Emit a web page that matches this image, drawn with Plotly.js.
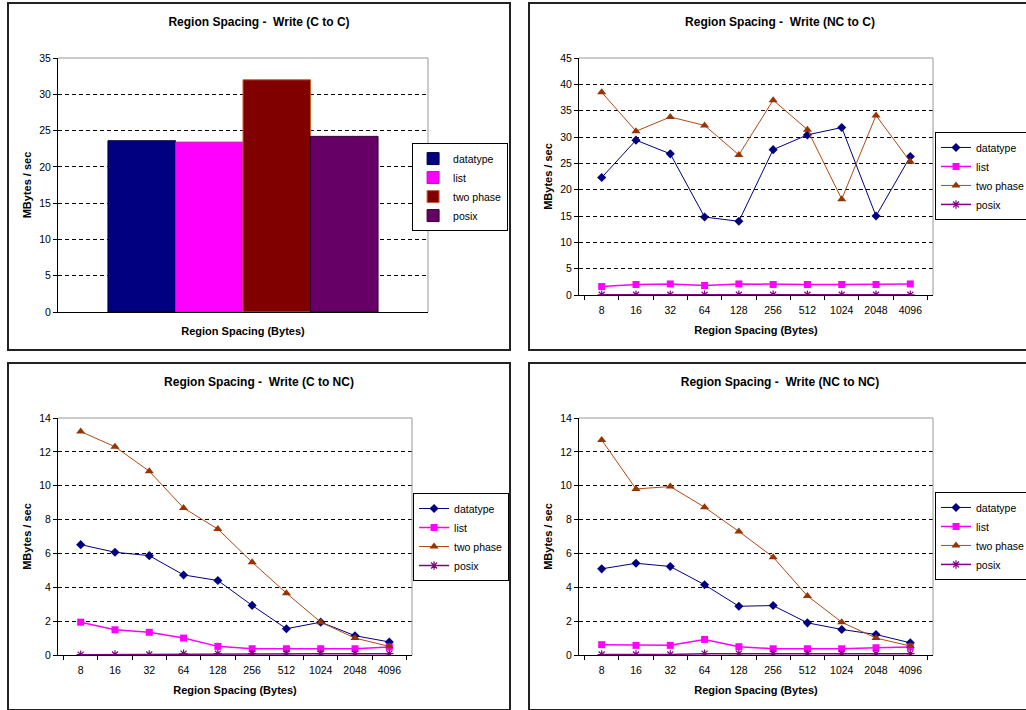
<!DOCTYPE html>
<html><head><meta charset="utf-8">
<script src="https://cdn.plot.ly/plotly-3.0.1.min.js"></script>
<style>
body{margin:0;width:1026px;height:710px;overflow:hidden;background:#fff;position:relative}
.frame{position:absolute;border:2px solid #222;width:500px;height:345px;background:#fff}
.frame>div{width:500px;height:345px}
</style></head><body>
<div class="frame" style="left:7px;top:2px"><div id="p1"></div></div>
<div class="frame" style="left:528px;top:2px"><div id="p2"></div></div>
<div class="frame" style="left:7px;top:362px"><div id="p3"></div></div>
<div class="frame" style="left:528px;top:362px"><div id="p4"></div></div>
<script>
// ---- data ----
const spacing = ['8','16','32','64','128','256','512','1024','2048','4096'];
const seriesNames = ['datatype','list','two phase','posix'];

// Write (C to C) - bar values
const ccValues = [23.6, 23.4, 32.0, 24.2];

// Write (NC to C)
const ncDatatype = [22.3, 29.4, 26.8, 14.8, 14.0, 27.6, 30.4, 31.8, 15.0, 26.3];
const ncList     = [1.6, 2.0, 2.1, 1.8, 2.1, 2.0, 2.0, 2.0, 2.0, 2.1];
const ncTwoPhase = [38.5, 31.1, 33.8, 32.2, 26.6, 37.0, 31.4, 18.2, 34.1, 25.3];
const ncPosix    = [0.05, 0.05, 0.05, 0.05, 0.05, 0.05, 0.05, 0.05, 0.05, 0.05];

// Write (C to NC)
const cnDatatype = [6.52, 6.07, 5.87, 4.73, 4.40, 2.93, 1.55, 1.94, 1.14, 0.77];
const cnList     = [1.94, 1.49, 1.34, 1.00, 0.51, 0.37, 0.37, 0.37, 0.37, 0.47];
const cnTwoPhase = [13.2, 12.3, 10.86, 8.68, 7.44, 5.48, 3.65, 1.94, 1.00, 0.51];
const cnPosix    = [0.02, 0.03, 0.03, 0.08, 0.08, 0.08, 0.08, 0.08, 0.08, 0.08];

// Write (NC to NC)
const nnDatatype = [5.09, 5.42, 5.23, 4.15, 2.88, 2.92, 1.90, 1.51, 1.21, 0.72];
const nnList     = [0.61, 0.57, 0.57, 0.92, 0.49, 0.37, 0.37, 0.37, 0.43, 0.47];
const nnTwoPhase = [12.7, 9.81, 9.95, 8.73, 7.30, 5.78, 3.49, 1.94, 1.00, 0.53];
const nnPosix    = [0.03, 0.03, 0.03, 0.08, 0.08, 0.08, 0.08, 0.08, 0.08, 0.08];

// ---- styles ----
const FONT = 'Liberation Sans, Arial, sans-serif';
const barColors = ['#000080', '#FF00FF', '#800000', '#660066'];
const barLines  = ['#000040', '#CC00CC', '#C8622A', '#330033'];
const lineColors = ['#000080', '#FF00FF', '#B04A14', '#800080'];
const markerColors = ['#000080', '#FF00FF', '#993300', '#800080'];
const symbols = ['diamond', 'square', 'triangle-up', 'asterisk-open'];
const msizes = [7, 7, 8, 7];
const lwidths = [1, 1.5, 1, 1.5];

function titleObj(t) {
  return {text: '<b>' + t + '</b>', x: 0.5, xref: 'container', xanchor: 'center',
          y: 1 - 18/345, yref: 'container', yanchor: 'middle',
          font: {family: FONT, size: 12, color: '#000'}};
}
function legendObj(x, y) {
  return {x: x, y: y, xref: 'paper', yref: 'paper', xanchor: 'left', yanchor: 'top',
          bgcolor: '#fff', bordercolor: '#000', borderwidth: 1,
          font: {family: FONT, size: 10.5, color: '#000'},
          itemwidth: 30, tracegroupgap: 0};
}
function yAxis(max, dtick) {
  return {range: [0, max], dtick: dtick, tick0: 0, showline: true, linecolor: '#000', linewidth: 1,
          ticks: 'outside', ticklen: 4, tickcolor: '#000', showgrid: true, gridcolor: '#000',
          griddash: '4px,3px', gridwidth: 1, zeroline: false, fixedrange: true, automargin: false,
          tickfont: {family: FONT, size: 10.5, color: '#000'},
          title: {text: '<b>MBytes / sec</b>', font: {family: FONT, size: 11, color: '#000'}, standoff: 5}};
}
const boxShapes = [
  {type: 'line', xref: 'paper', yref: 'paper', x0: 0, x1: 1, y0: 1, y1: 1, line: {color: '#999', width: 1}, layer: 'above'},
  {type: 'line', xref: 'paper', yref: 'paper', x0: 1, x1: 1, y0: 0, y1: 1, line: {color: '#999', width: 1}, layer: 'above'}
];

// ---- Panel 1: bar chart ----
const barTraces = seriesNames.map((n, i) => ({
  type: 'bar', name: n, x: ['Region'], y: [ccValues[i]],
  marker: {color: barColors[i], line: {color: barLines[i], width: 1}}
}));
Plotly.newPlot('p1', barTraces, {
  width: 500, height: 345, paper_bgcolor: '#fff', plot_bgcolor: '#fff',
  margin: {l: 49, r: 81, t: 54, b: 37, autoexpand: false},
  title: titleObj('Region Spacing - \u00a0Write (C to C)'),
  barmode: 'group', bargap: 0.27, bargroupgap: 0,
  showlegend: true, legend: legendObj(0.957, 0.665),
  xaxis: {type: 'category', showticklabels: false, ticks: '', showline: true, linecolor: '#000',
          linewidth: 1, showgrid: false, fixedrange: true, automargin: false,
          title: {text: '<b>Region Spacing (Bytes)</b>', font: {family: FONT, size: 11, color: '#000'}, standoff: 15}},
  yaxis: yAxis(35, 5),
  shapes: boxShapes
}, {staticPlot: true});

// ---- line panels ----
function linePanel(id, title, data, ymax, dtick, lx, ly) {
  const traces = data.map((vals, i) => ({
    type: 'scatter', mode: 'lines+markers', name: seriesNames[i], x: spacing, y: vals,
    line: {color: lineColors[i], width: lwidths[i]},
    marker: {symbol: symbols[i], size: msizes[i], color: markerColors[i],
             line: {color: markerColors[i], width: i === 3 ? 1.2 : 0}}
  }));
  Plotly.newPlot(id, traces, {
    width: 500, height: 345, paper_bgcolor: '#fff', plot_bgcolor: '#fff',
    margin: {l: 49, r: 97, t: 54, b: 54, autoexpand: false},
    title: titleObj(title),
    showlegend: true, legend: legendObj(lx, ly),
    xaxis: {type: 'category', showline: true, linecolor: '#000', linewidth: 1,
            ticks: 'outside', tickson: 'boundaries', ticklen: 4, tickcolor: '#000',
            tickangle: 0, ticklabelstandoff: 5, showgrid: false, fixedrange: true, automargin: false,
            tickfont: {family: FONT, size: 10.5, color: '#000'},
            title: {text: '<b>Region Spacing (Bytes)</b>', font: {family: FONT, size: 11, color: '#000'}, standoff: 11}},
    yaxis: yAxis(ymax, dtick),
    shapes: boxShapes
  }, {staticPlot: true});
}
linePanel('p2', 'Region Spacing - \u00a0Write (NC to C)', [ncDatatype, ncList, ncTwoPhase, ncPosix], 45, 5, 1.0056, 0.688);
linePanel('p3', 'Region Spacing - \u00a0Write (C to NC)', [cnDatatype, cnList, cnTwoPhase, cnPosix], 14, 2, 1.003, 0.6835);
linePanel('p4', 'Region Spacing - \u00a0Write (NC to NC)', [nnDatatype, nnList, nnTwoPhase, nnPosix], 14, 2, 1.0056, 0.688);
</script>
</body></html>
